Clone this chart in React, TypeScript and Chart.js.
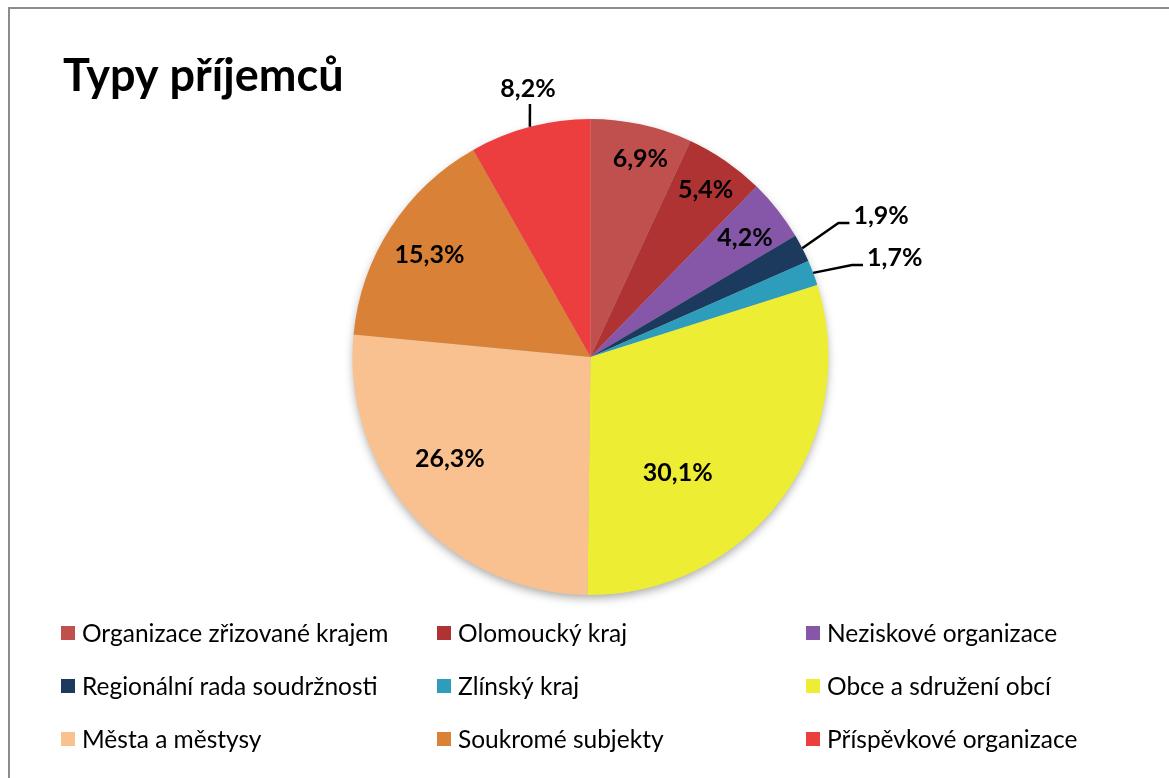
import React, { useEffect, useRef } from "react";
import { Chart, registerables } from "chart.js";

Chart.register(...registerables);

const chartTitle = "Typy příjemců";
const categories = [
  "Organizace zřizované krajem",
  "Olomoucký kraj",
  "Neziskové organizace",
  "Regionální rada soudržnosti",
  "Zlínský kraj",
  "Obce a sdružení obcí",
  "Města a městysy",
  "Soukromé subjekty",
  "Příspěvkové organizace",
];
const shares = [6.9, 5.4, 4.2, 1.9, 1.7, 30.1, 26.3, 15.3, 8.2];
const sliceColors = [
  "#C0504D",
  "#B03333",
  "#8657A8",
  "#1C3A5E",
  "#2E9CBB",
  "#EDED33",
  "#F9C18F",
  "#D98136",
  "#EC3E3F",
];

// label layout: mode, radius factor, angle shift (deg)
const labelMode = ["in", "in", "in", "outR", "outR", "in", "in", "in", "outTop"];
const labelRadius = [0.86, 0.853, 0.82, 1.184, 1.165, 0.61, 0.73, 0.8, 1.093];
const labelShift = [1.7, 0, 0.5, -1.2, 1.3, 16.5, 6, -0.7, 1.3];

const FONT = "Lato, Carlito, Calibri, 'Open Sans', sans-serif";
const W = 1159;
const H = 768;

const fmt = (v: number) => v.toFixed(1).replace(".", ",") + "%";

const decorPlugin = {
  id: "decor",
  beforeDatasetsDraw(chart: any) {
    const meta = chart.getDatasetMeta(0);
    const a = meta.data[0];
    if (!a) return;
    const ctx = chart.ctx;
    ctx.save();
    ctx.shadowColor = "rgba(0,0,0,0.35)";
    ctx.shadowBlur = 10;
    ctx.shadowOffsetY = 4;
    ctx.beginPath();
    ctx.arc(a.x, a.y, a.outerRadius - 1, 0, Math.PI * 2);
    ctx.fillStyle = "#bbbbbb";
    ctx.fill();
    ctx.restore();
  },
  afterDraw(chart: any) {
    const ctx = chart.ctx;
    const meta = chart.getDatasetMeta(0);
    ctx.save();
    // title
    ctx.fillStyle = "#000";
    ctx.font = `bold 45px ${FONT}`;
    ctx.textAlign = "left";
    ctx.textBaseline = "alphabetic";
    ctx.fillText(chartTitle, 53, 82);

    // data labels
    ctx.font = `bold 25px ${FONT}`;
    meta.data.forEach((arc: any, i: number) => {
      const mid = (arc.startAngle + arc.endAngle) / 2;
      const ang = mid + (labelShift[i] * Math.PI) / 180;
      const R = arc.outerRadius;
      const px = arc.x + Math.cos(ang) * R * labelRadius[i];
      const py = arc.y + Math.sin(ang) * R * labelRadius[i];
      const txt = fmt(shares[i]);
      ctx.fillStyle = "#000";
      if (labelMode[i] === "in") {
        ctx.textAlign = "center";
        ctx.textBaseline = "middle";
        ctx.fillText(txt, px, py);
      } else {
        const ex = arc.x + Math.cos(mid) * R;
        const ey = arc.y + Math.sin(mid) * R;
        ctx.strokeStyle = "#000";
        ctx.lineWidth = 2.5;
        ctx.beginPath();
        ctx.moveTo(ex, ey);
        if (labelMode[i] === "outR") {
          ctx.lineTo(px, py);
          ctx.lineTo(px + 11, py);
          ctx.stroke();
          ctx.textAlign = "left";
          ctx.textBaseline = "alphabetic";
          ctx.fillText(txt, px + 15, py + 1);
        } else {
          ctx.lineTo(px, py);
          ctx.stroke();
          ctx.textAlign = "center";
          ctx.textBaseline = "alphabetic";
          ctx.fillText(txt, px - 2, py - 7);
        }
      }
    });

    // legend
    const colX = [51, 427, 796];
    const rowY = [624, 677, 730];
    ctx.font = `24.5px ${FONT}`;
    ctx.textAlign = "left";
    ctx.textBaseline = "middle";
    categories.forEach((name, i) => {
      const cx = colX[i % 3];
      const cy = rowY[Math.floor(i / 3)];
      ctx.fillStyle = sliceColors[i];
      ctx.fillRect(cx, cy - 7, 14, 14);
      ctx.fillStyle = "#000";
      ctx.fillText(name, cx + 21, cy + 1);
    });
    ctx.restore();
  },
};

export default function App() {
  const ref = useRef<HTMLCanvasElement | null>(null);
  useEffect(() => {
    if (!ref.current) return;
    const radius = 238;
    const cx = 580.5;
    const cy = 348;
    const chart = new Chart(ref.current, {
      type: "pie",
      data: {
        labels: categories,
        datasets: [
          {
            data: shares,
            backgroundColor: sliceColors,
            borderWidth: 0,
          },
        ],
      },
      options: {
        responsive: false,
        animation: false,
        layout: {
          padding: {
            left: cx - radius,
            right: W - (cx + radius),
            top: cy - radius,
            bottom: H - (cy + radius),
          },
        },
        plugins: {
          legend: { display: false },
          tooltip: { enabled: false },
          title: { display: false },
        },
      },
      plugins: [decorPlugin],
    });
    return () => chart.destroy();
  }, []);

  return (
    <div
      style={{
        position: "fixed",
        left: 8,
        top: 7,
        width: 1180,
        height: 790,
        borderLeft: "2px solid #8c8c8c",
        borderTop: "2px solid #8c8c8c",
        background: "#fff",
      }}
    >
      <canvas ref={ref} width={W} height={H} style={{ display: "block" }} />
    </div>
  );
}
